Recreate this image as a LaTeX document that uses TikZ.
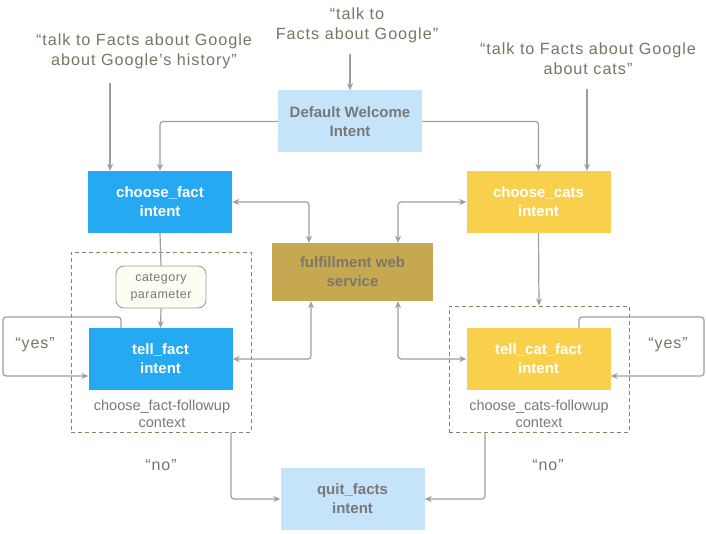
\documentclass[tikz,border=0pt]{standalone}
\usepackage{fontspec}
\setmainfont{Liberation Sans}
\usetikzlibrary{arrows.meta}
\definecolor{lblue}{HTML}{C6E4F9}
\definecolor{dblue}{HTML}{25A9F2}
\definecolor{cyel}{HTML}{F9D04C}
\definecolor{ful}{HTML}{C6A850}
\definecolor{fultxt}{HTML}{7A7868}
\definecolor{catfill}{HTML}{FEFDF1}
\definecolor{lgray}{HTML}{9E9E9E}
\definecolor{tgray}{HTML}{787878}
\definecolor{qtxt}{HTML}{7A7462}
\definecolor{dashc}{HTML}{8C8264}
\begin{document}
\begin{tikzpicture}[x=1pt,y=-1pt,
  box/.style={minimum width=144pt, minimum height=62pt, inner sep=0pt, align=center,
              font=\fontsize{15}{19}\selectfont\bfseries},
  lbox/.style={box, fill=lblue, text=tgray},
  bbox/.style={box, fill=dblue, text=white},
  ybox/.style={box, fill=cyel, text=white},
  quote/.style={align=center, text=qtxt, font=\fontsize{16.2}{20}\selectfont\addfontfeature{LetterSpace=6}},
  lab/.style={align=center, text=qtxt, font=\fontsize{16}{20}\selectfont\addfontfeature{LetterSpace=6}},
  ctx/.style={align=center, text=tgray, font=\fontsize{14.5}{17}\selectfont},
  dbox/.style={draw=dashc, line width=0.9pt, dash pattern=on 4pt off 3pt, inner sep=0pt},
  conn/.style={draw=lgray, line width=1.2pt, rounded corners=3pt},
  tip/.tip={Stealth[length=7pt,width=6pt]},
  arr/.style={conn,-tip},
  barr/.style={conn,tip-tip}]
\useasboundingbox (0,0) rectangle (706,534);
% dashed context boxes
\node[dbox, minimum width=180pt, minimum height=180pt] (dashL) at (161,342) {};
\node[dbox, minimum width=180pt, minimum height=126pt] (dashR) at (539,369) {};
% boxes
\node[lbox] (welcome) at (350,121.5) {Default Welcome\\Intent};
\node[bbox] (choosefact) at (160,202) {choose\_fact\\intent};
\node[ybox] (choosecats) at (538.5,202) {choose\_cats\\intent};
\node[box, fill=ful, text=fultxt, minimum width=161pt, minimum height=58pt] (fulfill) at (352.5,272) {fulfillment web\\service};
\node[draw=lgray, line width=0.9pt, fill=catfill, rounded corners=8pt, minimum width=90pt, minimum height=42pt,
      inner sep=0pt, align=center, text=tgray, font=\fontsize{12.5}{17}\selectfont\addfontfeature{LetterSpace=4}]
      (category) at (161,287) {category\\parameter};
\node[bbox] (tellfact) at (160.5,359) {tell\_fact\\intent};
\node[ybox] (tellcat) at (538.5,359) {tell\_cat\_fact\\intent};
\node[lbox] (quit) at (352.5,499) {quit\_facts\\intent};
% texts
\node[quote] (qL) at (144,51) {“talk to Facts about Google\\about Google’s history”};
\node[quote] (qC) at (357,25) {“talk to\\Facts about Google”};
\node[quote] (qR) at (588,59) {“talk to Facts about Google\\about cats”};
\node[ctx] (ctxL) at (162,414) {choose\_fact-followup\\context};
\node[ctx] (ctxR) at (539,414) {choose\_cats-followup\\context};
\node[lab] (yesL) at (35,345) {“yes”};
\node[lab] (yesR) at (668,345) {“yes”};
\node[lab] (noL) at (161,465) {“no”};
\node[lab] (noR) at (548,465) {“no”};
% free ends
\coordinate (qLend) at (110,83);
\coordinate (qCend) at (350,54);
\coordinate (qRend) at (587,89);
\coordinate (yl) at (3,317);
\coordinate (yr) at (704,317);
% connectors
\draw[arr] (qLend) -- (qLend |- choosefact.north);
\draw[arr] (qCend) -- (welcome.north);
\draw[arr] (qRend) -- (qRend |- choosecats.north);
\draw[arr] (welcome.west) -| (choosefact.north);
\draw[arr] (welcome.east) -| (choosecats.north);
\draw[barr] (choosefact.east) -| ([xshift=-43.5pt]fulfill.north);
\draw[barr] (choosecats.west) -| ([xshift=45.5pt]fulfill.north);
\draw[barr] ([xshift=-41.5pt]fulfill.south) |- (tellfact.east);
\draw[barr] ([xshift=45.5pt]fulfill.south) |- (tellcat.west);
\draw[conn] (choosefact.south) -- (category.north);
\draw[arr] (category.south) -- (tellfact.north);
\draw[arr] (choosecats.south) -- (dashR.north);
\draw[arr] ([xshift=-39.5pt]tellfact.north) |- (yl) |- ([yshift=-17pt]tellfact.west);
\draw[arr] ([xshift=40.5pt]tellcat.north) |- (yr) |- ([yshift=-17pt]tellcat.east);
\draw[arr] ([xshift=70pt]dashL.south) |- (quit.west);
\draw[arr] ([xshift=-54pt]dashR.south) |- (quit.east);
\end{tikzpicture}
\end{document}
